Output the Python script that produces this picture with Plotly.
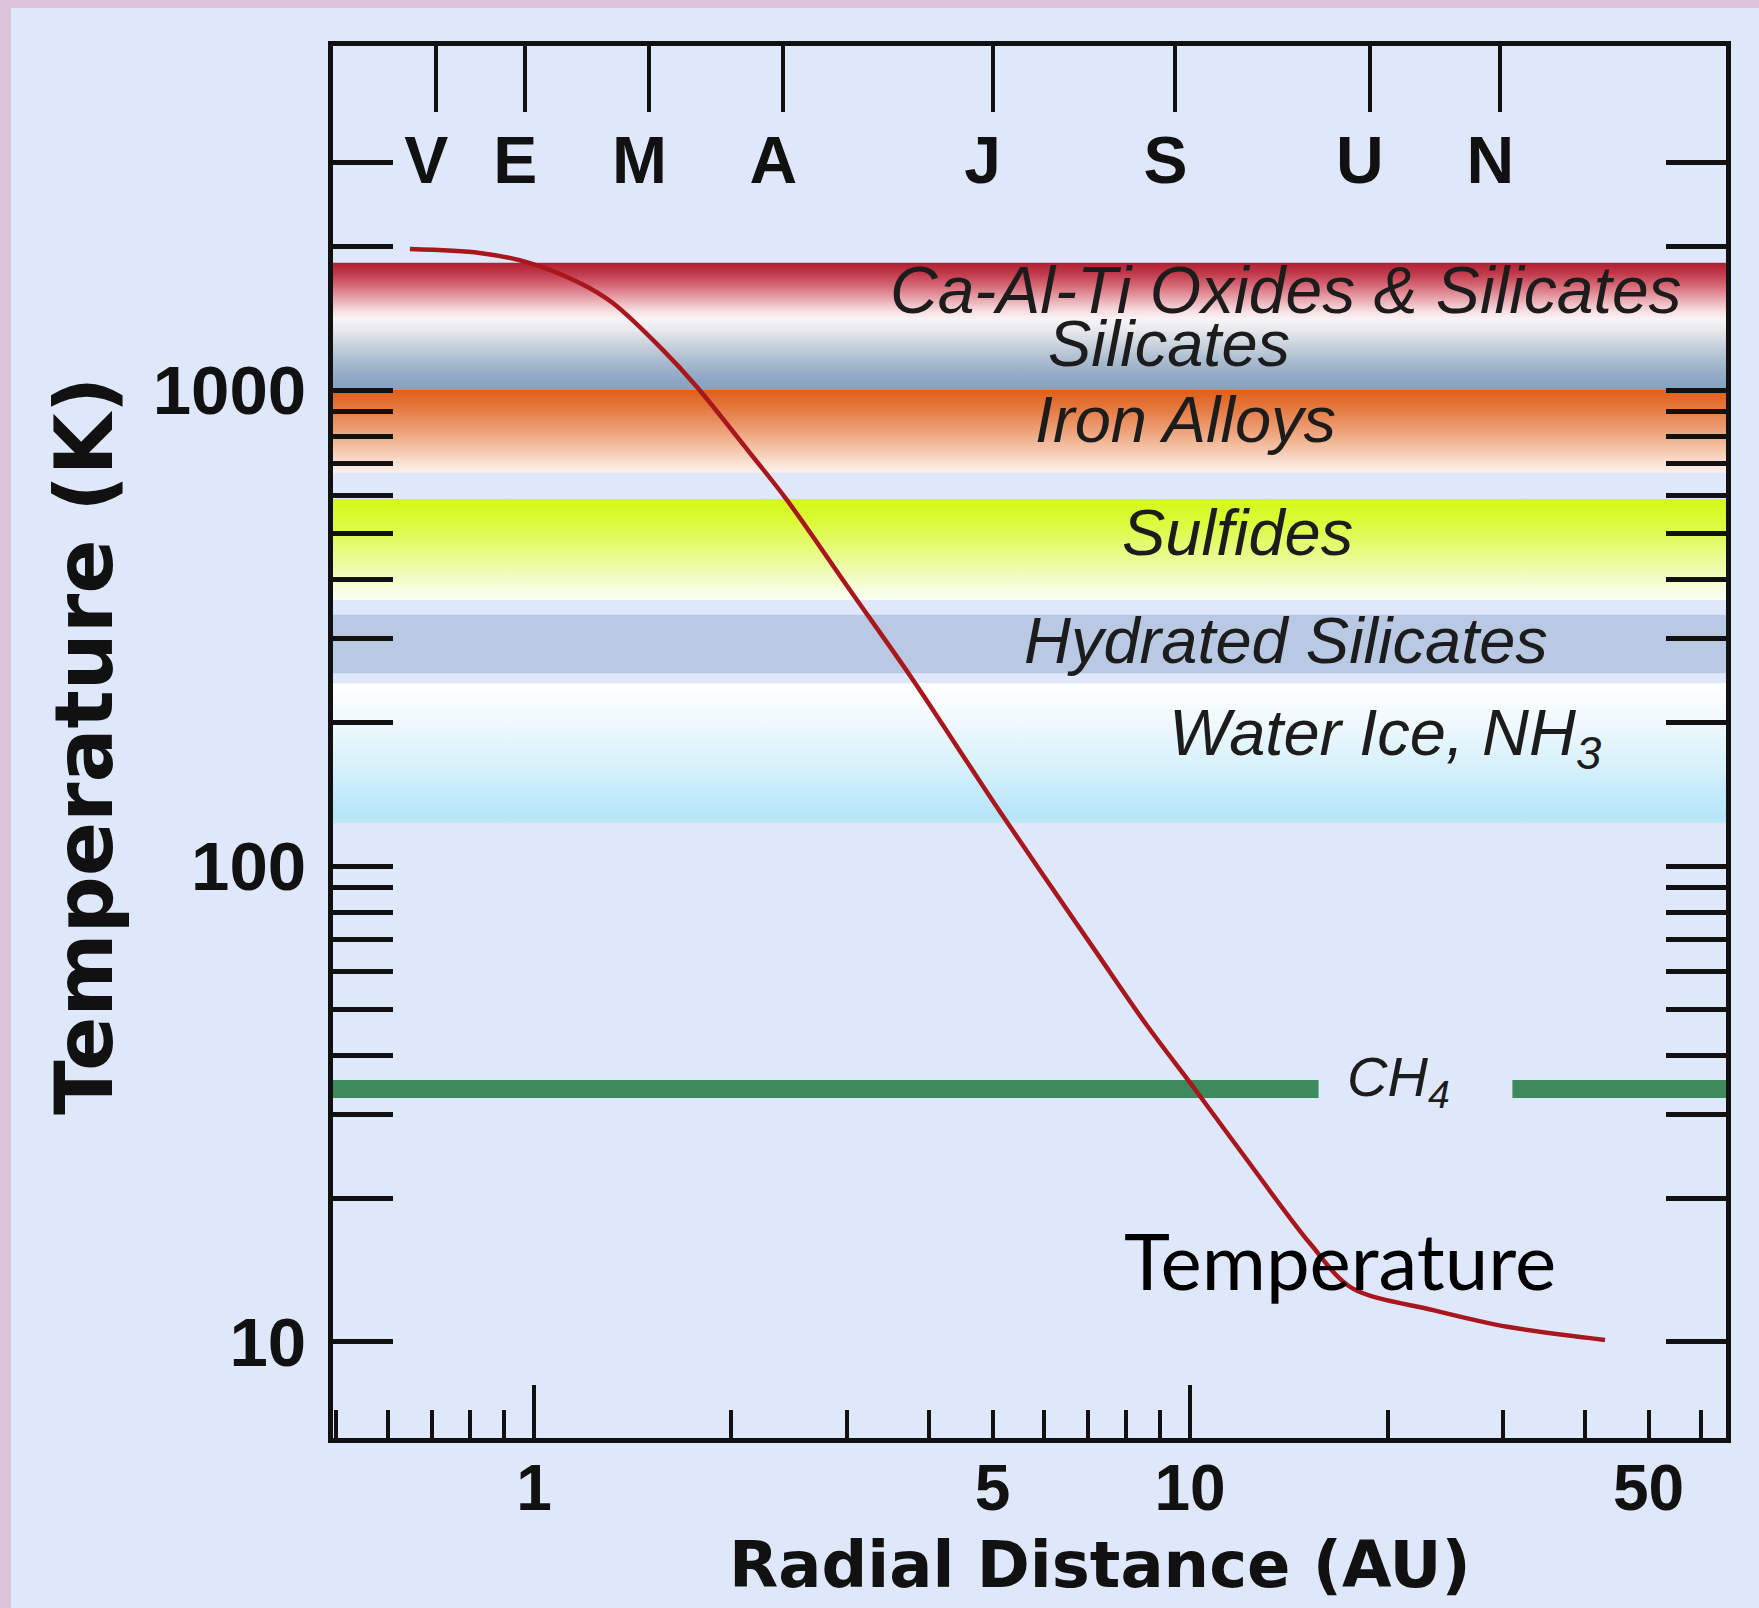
import numpy as np
import plotly.graph_objects as go

# ---------------- data ----------------
# Temperature profile of the solar nebula (radial distance in AU, temperature in K)
dist_au = [0.647, 0.827, 0.986, 1.175, 1.319, 1.573, 1.772, 2.135, 2.431, 3.031,
           3.782, 5.133, 7.19, 8.57, 10.2, 11.96, 15.24, 17.66, 23.47, 30.6, 42.9]
temp_k = [1978, 1941, 1848, 1678, 1523, 1213, 1015, 737, 587, 380,
          246, 130, 66, 46.5, 33.8, 25.1, 16.1, 12.98, 11.67, 10.75, 10.1]

# Planet positions (top axis)
planet_letters = ["V", "E", "M", "A", "J", "S", "U", "N"]
planet_au = [0.71, 0.97, 1.5, 2.4, 5.0, 9.5, 18.8, 29.7]

# Condensation bands (K)
band_low_k = [1000, 670, 362, 254, 123]
band_high_k = [1850, 1000, 590, 337, 242]
band_colorscales = [
    [[0.0, "#84a0c2"], [0.09, "#8ea8c6"], [0.22, "#a8bace"], [0.35, "#c8d2dc"],
     [0.47, "#e6e9ee"], [0.56, "#f8f4f4"], [0.625, "#f6dcde"], [0.72, "#e8a4ac"],
     [0.82, "#d66a78"], [0.92, "#c03848"], [1.0, "#b02034"]],
    [[0.0, "#fcf0ec"], [0.1, "#fbe4d8"], [0.3, "#f4c2a6"], [0.55, "#ec9a70"],
     [0.8, "#e4763c"], [1.0, "#df5e1a"]],
    [[0.0, "#fbfff2"], [0.1, "#f6fee0"], [0.3, "#eefcb0"], [0.55, "#e4fb70"],
     [0.8, "#dafa34"], [1.0, "#d4f81a"]],
    [[0.0, "#b9c8e3"], [1.0, "#b9c8e3"]],
    [[0.0, "#c2e8f8"], [0.05, "#b6e5f8"], [0.2, "#c2eafa"], [0.45, "#dbf2fb"],
     [0.7, "#eef8fd"], [1.0, "#ffffff"]],
]

# Band labels
label_texts = ["Ca-Al-Ti Oxides & Silicates", "Silicates", "Iron Alloys", "Sulfides",
               "Hydrated Silicates", "Water Ice, NH<sub>3</sub>", "CH<sub>4</sub>"]
label_au = [14.0, 9.3, 9.85, 11.8, 14.0, 19.8, 20.8]
label_k = [1625, 1250, 869, 501, 297, 186, 35.5]
label_sizes = [66, 65, 65, 65, 65, 65, 56]

# Methane condensation line
ch4_k = 34
ch4_gap_au = [15.7, 31.0]

# Axes
x_range_au = [0.494, 65.6]
y_range_k = [6.285, 5281]
x_ticks_labeled = [1, 5, 10, 50]
x_ticks_long = [1, 10]
x_ticks_minor = [0.5, 0.6, 0.7, 0.8, 0.9, 2, 3, 4, 6, 7, 8, 9, 20, 30, 40, 60]
y_ticks_major = [10, 100, 1000]
y_ticks_minor = [20, 30, 40, 50, 60, 70, 80, 90, 200, 300, 400, 500, 600, 700, 800, 900, 2000, 3000]

# ---------------- figure ----------------
W, H = 1759, 1608
ML, MR, MT, MB = 333, 33, 46, 170
PW, PH = W - ML - MR, H - MT - MB
BG = "#dfe8fa"
PINK = "#dcc3d9"
INK = "#111111"

xr = [np.log10(v) for v in x_range_au]
yr = [np.log10(v) for v in y_range_k]

fig = go.Figure()

# gradient bands
for lo, hi, cs in zip(band_low_k, band_high_k, band_colorscales):
    x0, x1 = x_range_au
    fig.add_trace(go.Scatter(
        x=[x0, x1, x1, x0, x0], y=[lo, lo, hi, hi, lo],
        mode="lines", line=dict(width=0), fill="toself",
        fillgradient=dict(type="vertical", colorscale=cs),
        hoverinfo="skip", showlegend=False))

# CH4 line with gap for label
fig.add_trace(go.Scatter(x=[x_range_au[0], ch4_gap_au[0]], y=[ch4_k, ch4_k], mode="lines",
                         line=dict(color="#3d8a5c", width=18), showlegend=False, hoverinfo="skip"))
fig.add_trace(go.Scatter(x=[ch4_gap_au[1], x_range_au[1]], y=[ch4_k, ch4_k], mode="lines",
                         line=dict(color="#3d8a5c", width=18), showlegend=False, hoverinfo="skip"))

# temperature curve
fig.add_trace(go.Scatter(x=dist_au, y=temp_k, mode="lines",
                         line=dict(color="#a8161e", width=4.5, shape="spline", smoothing=0.9),
                         showlegend=False))

# invisible carriers so the overlaying axes are drawn
fig.add_trace(go.Scatter(x=planet_au, y=[y_range_k[1]] * len(planet_au), xaxis="x2",
                         mode="markers", marker=dict(opacity=0), hoverinfo="skip", showlegend=False))
fig.add_trace(go.Scatter(x=x_ticks_long, y=[y_range_k[0]] * len(x_ticks_long), xaxis="x3",
                         mode="markers", marker=dict(opacity=0), hoverinfo="skip", showlegend=False))

# band labels
for t, xa, yk, fs in zip(label_texts, label_au, label_k, label_sizes):
    fig.add_annotation(x=np.log10(xa), y=np.log10(yk), xref="x", yref="y", text=t,
                       showarrow=False, xanchor="center", yanchor="middle",
                       font=dict(family="Liberation Sans", size=fs, color="#1c1c1c", style="italic"))

# "Temperature" curve label
fig.add_annotation(x=np.log10(16.9), y=np.log10(14.9), xref="x", yref="y", text="Temperature",
                   showarrow=False, xanchor="center", yanchor="middle",
                   font=dict(family="Lato", size=78, color="#000000"))

# axis titles
fig.add_annotation(x=(1100 - ML) / PW, y=(MT + PH - 1565) / PH, xref="paper", yref="paper",
                   text="Radial Distance (AU)", showarrow=False, xanchor="center", yanchor="middle",
                   font=dict(family="DejaVu Sans", size=64, color=INK, weight="bold"))
fig.add_annotation(x=(84 - ML) / PW, y=(MT + PH - 746) / PH, xref="paper", yref="paper",
                   text="Temperature (K)", showarrow=False, textangle=-90,
                   xanchor="center", yanchor="middle",
                   font=dict(family="DejaVu Sans", size=80, color=INK, weight="bold"))

# pink frame strips (left and top)
fig.add_shape(type="rect", xref="paper", yref="paper", x0=-ML / PW, x1=(11 - ML) / PW,
              y0=-MB / PH, y1=1 + MT / PH, fillcolor=PINK, line=dict(width=0))
fig.add_shape(type="rect", xref="paper", yref="paper", x0=-ML / PW, x1=1 + MR / PW,
              y0=1 + (MT - 8) / PH, y1=1 + MT / PH, fillcolor=PINK, line=dict(width=0))

fig.update_layout(
    width=W, height=H,
    margin=dict(l=ML, r=MR, t=MT, b=MB, pad=0),
    paper_bgcolor=BG, plot_bgcolor=BG,
    showlegend=False,
    xaxis=dict(type="log", range=xr, showgrid=False, zeroline=False,
               showline=True, linecolor=INK, linewidth=5, mirror=True,
               tickmode="array", tickvals=x_ticks_labeled,
               ticktext=[str(v) for v in x_ticks_labeled],
               ticks="inside", ticklen=28, tickwidth=4, tickcolor=INK,
               ticklabelstandoff=-10,
               tickfont=dict(family="Liberation Sans", size=64, color=INK, weight="bold"),
               minor=dict(tickmode="array", tickvals=x_ticks_minor, ticks="inside",
                          ticklen=28, tickwidth=4, tickcolor=INK, showgrid=False)),
    xaxis2=dict(type="log", range=xr, overlaying="x", side="top", anchor="y",
                showgrid=False, zeroline=False, showline=False,
                tickmode="array", tickvals=planet_au, ticktext=planet_letters,
                ticks="inside", ticklen=66, tickwidth=4, tickcolor=INK,
                ticklabelposition="inside", ticklabelstandoff=35, ticklabelshift=-10,
                tickfont=dict(family="Liberation Sans", size=66, color=INK, weight="bold")),
    xaxis3=dict(type="log", range=xr, overlaying="x", side="bottom", anchor="y",
                showgrid=False, zeroline=False, showline=False,
                tickmode="array", tickvals=x_ticks_long, showticklabels=False,
                ticks="inside", ticklen=53, tickwidth=4, tickcolor=INK),
    yaxis=dict(type="log", range=yr, showgrid=False, zeroline=False,
               showline=True, linecolor=INK, linewidth=5, mirror="allticks",
               tickmode="array", tickvals=y_ticks_major,
               ticktext=[str(v) for v in y_ticks_major],
               ticks="inside", ticklen=60, tickwidth=5, tickcolor=INK,
               ticklabelstandoff=8,
               tickfont=dict(family="Liberation Sans", size=69, color=INK, weight="bold"),
               minor=dict(tickmode="array", tickvals=y_ticks_minor, ticks="inside",
                          ticklen=35, tickwidth=5, tickcolor=INK, showgrid=False)),
)

fig.write_html("out.html")
